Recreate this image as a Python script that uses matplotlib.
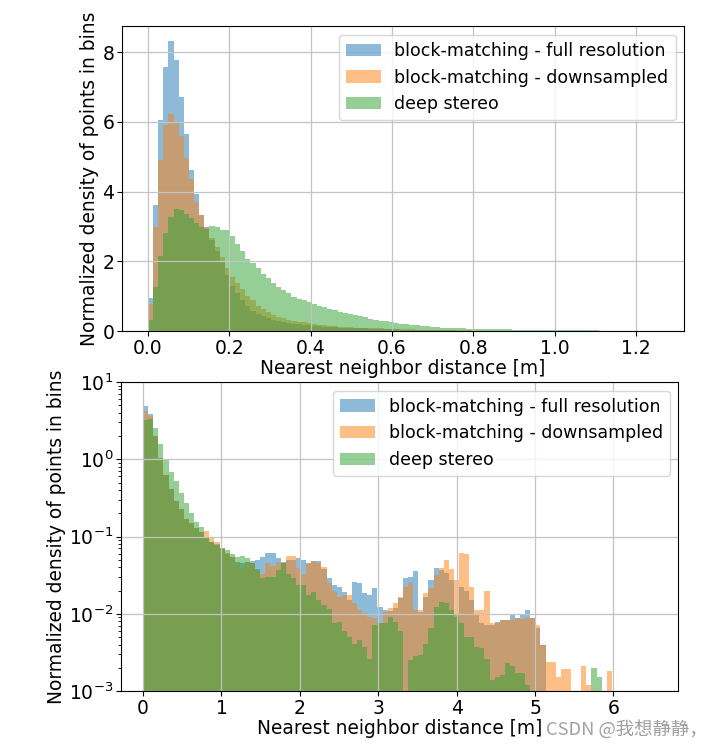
import numpy as np
import matplotlib
matplotlib.use("Agg")
import matplotlib.pyplot as plt

# ---- data (bin heights, normalized density) ----
LABELS = ["block-matching - full resolution", "block-matching - downsampled", "deep stereo"]
COLORS = ["#1f77b4", "#ff7f0e", "#2ca02c"]

# top panel: 100 bins on [0, 1.26] m
top_edges = np.linspace(0.0, 1.26, 101)
top_full = [0.94, 3.61, 6.05, 7.56, 8.31, 7.76, 6.71, 5.66, 4.63, 3.94,
            3.34, 2.97, 2.62, 2.30, 1.98, 1.62, 1.30, 1.08, 0.90, 0.72,
            0.58, 0.48, 0.42, 0.37, 0.32, 0.28, 0.25, 0.22, 0.20, 0.19,
            0.17, 0.16, 0.15, 0.14, 0.13, 0.12, 0.11, 0.10, 0.095, 0.09,
            0.085, 0.08, 0.075, 0.07, 0.065, 0.06, 0.055, 0.05, 0.046, 0.042,
            0.038, 0.035, 0.032, 0.029, 0.026, 0.024, 0.022, 0.02, 0.018, 0.016,
            0.014, 0.012, 0.011, 0.01, 0.009, 0.008, 0.007, 0.006, 0.005, 0.004,
            0.003]
top_down = [0.77, 2.99, 4.90, 5.90, 6.22, 5.98, 5.59, 4.95, 4.37, 3.71,
            3.34, 2.99, 2.66, 2.40, 2.12, 1.81, 1.55, 1.37, 1.20, 1.00,
            0.88, 0.72, 0.62, 0.54, 0.47, 0.41, 0.37, 0.33, 0.30, 0.27,
            0.25, 0.22, 0.20, 0.18, 0.16, 0.15, 0.14, 0.13, 0.12, 0.11,
            0.10, 0.095, 0.09, 0.085, 0.08, 0.075, 0.07, 0.065, 0.06, 0.055,
            0.05, 0.046, 0.042, 0.038, 0.035, 0.032, 0.029, 0.026, 0.024, 0.022,
            0.02, 0.018, 0.016, 0.014, 0.012, 0.011, 0.01, 0.009, 0.008, 0.007,
            0.006, 0.005, 0.004, 0.003, 0.002, 0.002]
top_deep = [0.32, 1.27, 2.16, 2.82, 3.28, 3.50, 3.47, 3.37, 3.23, 3.09,
            2.99, 2.94, 3.02, 2.99, 2.91, 2.89, 2.72, 2.51, 2.30, 2.08,
            1.94, 1.80, 1.65, 1.51, 1.37, 1.27, 1.17, 1.08, 0.98, 0.93,
            0.88, 0.83, 0.78, 0.73, 0.68, 0.63, 0.59, 0.55, 0.52, 0.48,
            0.45, 0.42, 0.39, 0.36, 0.33, 0.30, 0.28, 0.25, 0.23, 0.21,
            0.19, 0.175, 0.16, 0.15, 0.135, 0.12, 0.11, 0.10, 0.09, 0.085,
            0.08, 0.075, 0.07, 0.066, 0.062, 0.06, 0.057, 0.054, 0.051, 0.048,
            0.046, 0.044, 0.042, 0.04, 0.038, 0.036, 0.034, 0.032, 0.031, 0.03,
            0.029, 0.028, 0.026, 0.024, 0.022, 0.02, 0.018, 0.016, 0.014, 0.012]

# bottom panel: 100 bins on [0, 6.5] m, log y
bot_edges = np.linspace(0.0, 6.5, 101)
bot_full = [4.93, 3.86, 2.02, 1.03, 0.63, 0.41, 0.29, 0.23, 0.17, 0.148,
            0.13, 0.115, 0.10, 0.085, 0.08, 0.072, 0.06, 0.055, 0.047, 0.045,
            0.047, 0.048, 0.049, 0.0535, 0.062, 0.062, 0.052, 0.047, 0.05, 0.049,
            0.053, 0.05, 0.045, 0.048, 0.048, 0.038, 0.029, 0.0236, 0.0224, 0.0193,
            0.015, 0.026, 0.025, 0.0184, 0.0175, 0.0213, 0.0124, 0.0112, 0.011, 0.012,
            0.016, 0.029, 0.030, 0.036, 0.0106, 0.0166, 0.0275, 0.039, 0.037, 0.034,
            0.027, 0.0092, 0.0224, 0.02, 0.015, 0.0096, 0.0075, 0.0071, 0.0071, 0.0079,
            0.0083, 0.0083, 0.0098, 0.0087, 0.0098, 0.0112, 0.0087, 0.0065, 0.004]
bot_down = [4.2, 3.63, 2.02, 1.03, 0.625, 0.41, 0.29, 0.23, 0.17, 0.148,
            0.13, 0.115, 0.118, 0.095, 0.085, 0.072, 0.061, 0.055, 0.045, 0.039,
            0.047, 0.045, 0.037, 0.033, 0.046, 0.042, 0.047, 0.046, 0.056, 0.056,
            0.039, 0.033, 0.044, 0.048, 0.045, 0.040, 0.025, 0.020, 0.0166, 0.0175,
            0.0175, 0.0136, 0.0112, 0.0101, 0.009, 0.0087, 0.0075, 0.0105, 0.0118, 0.0136,
            0.0166, 0.0224, 0.025, 0.0112, 0.0112, 0.0184, 0.0213, 0.032, 0.0387, 0.049,
            0.038, 0.0275, 0.0605, 0.059, 0.0224, 0.0112, 0.0112, 0.02, 0.0075, 0.0075,
            0.0083, 0.0083, 0.0083, 0.0087, 0.0085, 0.0087, 0.0087, 0.0071, 0.0039, 0.0024,
            0.0024, 0.0015, 0.0019, 0.0019, 0.0, 0.0, 0.0021, 0.0012, 0.0, 0.0,
            0.0, 0.0018]
bot_deep = [3.22, 3.32, 2.56, 1.56, 1.0, 0.69, 0.53, 0.37, 0.27, 0.20,
            0.153, 0.134, 0.10, 0.085, 0.077, 0.068, 0.067, 0.059, 0.054, 0.056,
            0.052, 0.045, 0.038, 0.029, 0.030, 0.030, 0.037, 0.045, 0.033, 0.029,
            0.0236, 0.0236, 0.0175, 0.019, 0.015, 0.013, 0.0115, 0.0075, 0.0079, 0.0059,
            0.005, 0.0041, 0.0046, 0.0037, 0.0026, 0.0071, 0.0075, 0.0075, 0.0092, 0.0079,
            0.0059, 0.0, 0.0025, 0.0028, 0.0029, 0.0041, 0.0066, 0.0124, 0.0142, 0.0136,
            0.0112, 0.0096, 0.0075, 0.005, 0.005, 0.0037, 0.0036, 0.0026, 0.0014, 0.0015,
            0.0016, 0.0023, 0.0021, 0.0017, 0.0017, 0.0012, 0.0, 0.0, 0.0, 0.0,
            0.0, 0.0, 0.0, 0.0, 0.0, 0.0, 0.0, 0.0, 0.002, 0.0015]


def _pad(vals, n):
    return np.array(list(vals) + [0.0] * (n - len(vals)))


def draw(ax, edges, series):
    centers = 0.5 * (edges[:-1] + edges[1:])
    n = len(centers)
    for vals, c, lbl in zip(series, COLORS, LABELS):
        ax.hist(centers, bins=edges, weights=_pad(vals, n), color=c, alpha=0.5, label=lbl)
    ax.grid(True, color="#c4c4c4", lw=0.9)
    ax.legend(loc="upper right", fontsize=12.5)
    ax.set_xlabel("Nearest neighbor distance [m]", fontsize=13.4, labelpad=1)
    ax.set_ylabel("Normalized density of points in bins", fontsize=13.4, labelpad=2)
    ax.tick_params(labelsize=13.5, pad=2)


fig = plt.figure(figsize=(7.21, 7.49), dpi=100)
ax1 = fig.add_axes([0.169, 0.558, 0.780, 0.407])
ax2 = fig.add_axes([0.168, 0.0774, 0.773, 0.4126])

draw(ax1, top_edges, [top_full, top_down, top_deep])
ax1.set_xlim(-0.064, 1.318)
ax1.set_ylim(0, 8.74)
ax1.set_yticks([0, 2, 4, 6, 8])

draw(ax2, bot_edges, [bot_full, bot_down, bot_deep])
ax2.set_yscale("log")
ax2.set_ylim(1e-3, 1e1)
ax2.set_xlim(-0.28, 6.83)

fig.text(0.982, 0.014, "CSDN @我想静静，", ha="right", va="bottom", fontsize=13.2,
         color="#a0a0a0", family=["Noto Sans CJK SC", "DejaVu Sans"])

fig.savefig("out.png", dpi=100)
